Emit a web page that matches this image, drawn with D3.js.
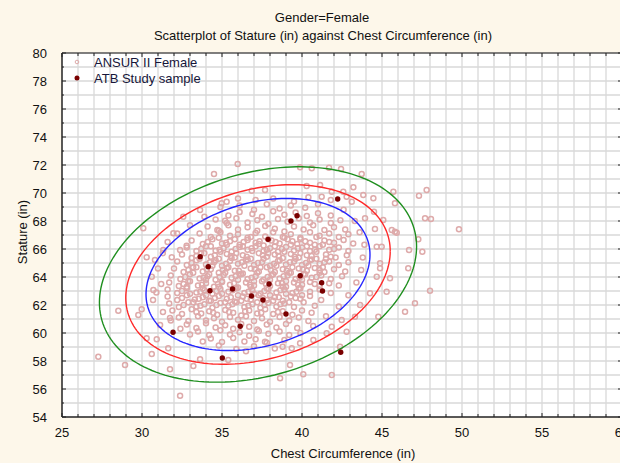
<!DOCTYPE html>
<html>
<head>
<meta charset="utf-8">
<script src="https://cdn.jsdelivr.net/npm/d3@7"></script>
<style>
  body { margin: 0; background: #fdf7ea; }
  text { font-family: "Liberation Sans", Arial, sans-serif; }
</style>
</head>
<body>
<div id="chart"></div>
<script>
// Data (inches)
const xTicks = [25, 30, 35, 40, 45, 50, 55, 60];
const yTicks = [54, 56, 58, 60, 62, 64, 66, 68, 70, 72, 74, 76, 78, 80];
const legendLabels = ["ANSUR II Female", "ATB Study sample"];

// ANSUR II female sample, chest circumference vs stature
const ansurPoints = [
  // outer / sparse points
  [35.98,72.07],[34.5,71.36],[30.08,67.48],[30.29,65.41],[31.86,65.41],[32.38,65.93],[32.79,66.24],
  [34.71,67.36],[35.19,68.02],[35.29,69.38],[41.69,71.81],[40.61,71.76],[39.88,71.84],[43.73,71.36],
  [43.21,70.41],[42.79,69.74],[43.11,69.38],[43.94,68.19],[44.56,67.43],[45.92,67.16],[47.79,70.21],
  [47.69,68.19],[46.69,65.93],[47.52,65.81],[46.64,64.62],[44.67,66.16],[44.88,64.62],[45.81,69.26],
  [45.71,70.09],[44.46,69.62],[41.23,69.74],[41.86,70.09],[37.69,70.21],[28.52,61.59],[27.27,58.31],
  [28.94,57.71],[29.77,61.29],[29.98,61.69],[30.29,59.62],[30.92,59.55],[30.61,58.5],[31.75,57.41],
  [32.38,55.52],[33.21,57.64],[33.63,58.12],[35.39,58.07],[31.64,58.91],[47.06,62.12],[46.44,61.52],
  [45.29,62.95],[44.77,61.16],[42.79,60.09],[41.86,57.0],[40.08,57.05],[38.63,56.76],[39.25,57.71],
  [42.38,59.02],[37.69,59.38],[38.79,59.02],[49.81,67.41],[47.31,69.81],[48.06,68.14],[48.0,63.02],
  [47.27,66.69],[42.44,71.71],[30.69,62.36],[31.31,61.5],[31.75,61.07],[31.13,60.57],[41.86,60.45],
  [42.48,60.93],[41.54,59.98],[39.88,59.26],[39.36,58.91],[40.71,59.5],[43.63,62.0],[44.25,62.84],
  [43.31,61.16],[40.29,70.5],[41.13,70.57],[42.58,70.09],[43.83,69.86],[44.5,68.66],[45.08,68.07],
  [45.61,67.36],[44.98,66.16],[44.88,64.98],[45.5,63.91],[44.67,64.02],[45.81,67.24],[36.86,70.16],
  [34.98,69.26],[33.63,68.79],[32.58,68.31],[31.96,67.12],[31.33,65.93],[30.81,65.21],[30.61,64.02],
  [30.71,63.07],
  // ring near the inner ellipse
  [31.0,64.6],[31.2,63.5],[30.9,62.9],[31.3,65.7],[31.6,66.5],[32.2,67.1],[33.0,67.7],[33.9,68.3],
  [34.9,69.0],[36.0,69.6],[41.8,69.5],[42.6,68.8],[43.3,68.0],[43.6,67.2],[43.9,66.3],[43.8,65.4],
  [43.7,64.5],[43.4,63.6],[42.9,62.7],[42.3,61.9],[41.5,61.2],[40.7,60.5],[39.9,60.0],[38.9,59.5],
  [33.0,59.9],[32.4,60.3],[31.8,60.9],[38.3,58.9],[36.5,58.7],[33.8,59.4],
  // dense core
  [38.2,69.6],[39.5,69.4],[40.4,69.7],[37.1,69.5],
  [36.1,69.1],[37.0,68.8],[37.8,69.2],[38.6,68.9],[39.3,69.1],[40.2,68.95],[41.0,69.2],
  [35.4,68.4],[36.1,68.65],[36.9,68.5],[37.5,68.3],[38.2,68.7],[38.9,68.45],[39.6,68.6],[40.3,68.35],[41.0,68.55],[41.8,68.4],
  [34.6,68.1],[35.3,67.85],[35.9,68.2],[36.6,67.9],[37.2,68.05],[37.9,67.8],[38.5,68.15],[39.1,67.95],[39.8,68.2],[40.5,67.9],[41.1,68.1],[41.8,67.85],[42.4,68.05],
  [34.1,67.6],[34.8,67.3],[35.4,67.7],[36.0,67.4],[36.6,67.55],[37.2,67.3],[37.7,67.65],[38.3,67.45],[38.9,67.25],[39.5,67.6],[40.1,67.4],[40.7,67.7],[41.4,67.35],[42.0,67.55],[42.7,67.4],
  [33.6,67.1],[34.3,66.85],[34.9,67.2],[35.5,66.95],[36.0,67.05],[36.6,66.8],[37.1,67.15],[37.7,66.9],[38.2,67.2],[38.8,66.85],[39.3,67.05],[39.9,66.8],[40.5,67.2],[41.1,66.95],[41.7,67.1],[42.3,66.85],[42.9,67.05],
  [33.1,66.6],[33.8,66.35],[34.4,66.7],[35.0,66.4],[35.5,66.55],[36.1,66.3],[36.6,66.65],[37.1,66.45],[37.6,66.25],[38.1,66.6],[38.6,66.4],[39.1,66.7],[39.7,66.35],[40.2,66.55],[40.8,66.3],[41.4,66.6],[42.0,66.45],[42.6,66.65],[43.2,66.4],
  [32.8,66.1],[33.4,65.85],[34.0,66.2],[34.6,65.9],[35.1,66.05],[35.6,65.8],[36.1,66.15],[36.6,65.95],[37.1,66.2],[37.6,65.85],[38.0,66.05],[38.5,65.8],[39.0,66.15],[39.5,65.9],[40.0,66.1],[40.5,65.85],[41.1,66.2],[41.7,65.95],[42.3,66.1],[42.9,65.85],
  [32.5,65.6],[33.1,65.35],[33.7,65.7],[34.3,65.45],[34.8,65.3],[35.3,65.65],[35.8,65.4],[36.3,65.55],[36.8,65.3],[37.3,65.7],[37.8,65.45],[38.3,65.6],[38.8,65.35],[39.3,65.65],[39.8,65.4],[40.3,65.55],[40.9,65.3],[41.5,65.6],[42.1,65.4],[42.8,65.55],
  [32.2,65.1],[32.8,64.85],[33.4,65.2],[34.0,64.9],[34.5,65.05],[35.0,64.8],[35.5,65.15],[36.0,64.95],[36.5,65.2],[37.0,64.85],[37.5,65.05],[38.0,64.8],[38.5,65.15],[39.0,64.9],[39.5,65.1],[40.0,64.85],[40.5,65.2],[41.1,64.95],[41.7,65.1],[42.3,64.85],[42.9,65.05],
  [32.0,64.6],[32.6,64.35],[33.2,64.7],[33.8,64.4],[34.3,64.55],[34.8,64.3],[35.3,64.65],[35.8,64.45],[36.3,64.25],[36.8,64.6],[37.3,64.4],[37.8,64.7],[38.3,64.35],[38.8,64.55],[39.3,64.3],[39.8,64.6],[40.3,64.45],[40.8,64.65],[41.4,64.35],[42.0,64.55],[42.7,64.4],
  [31.8,64.1],[32.4,63.85],[33.0,64.2],[33.6,63.9],[34.1,64.05],[34.6,63.8],[35.1,64.15],[35.6,63.95],[36.1,64.2],[36.6,63.85],[37.1,64.05],[37.6,63.8],[38.1,64.15],[38.6,63.9],[39.1,64.1],[39.6,63.85],[40.1,64.2],[40.6,63.95],[41.2,64.1],[41.8,63.85],[42.5,64.05],
  [31.7,63.6],[32.3,63.35],[32.9,63.7],[33.5,63.4],[34.0,63.55],[34.5,63.3],[35.0,63.65],[35.5,63.45],[36.0,63.25],[36.5,63.6],[37.0,63.4],[37.5,63.7],[38.0,63.35],[38.5,63.55],[39.0,63.3],[39.5,63.6],[40.0,63.45],[40.5,63.65],[41.1,63.35],[41.7,63.55],[42.3,63.4],
  [31.6,63.1],[32.2,62.85],[32.8,63.2],[33.4,62.9],[33.9,63.05],[34.4,62.8],[34.9,63.15],[35.4,62.95],[35.9,63.2],[36.4,62.85],[36.9,63.05],[37.4,62.8],[37.9,63.15],[38.4,62.9],[38.9,63.1],[39.4,62.85],[39.9,63.2],[40.5,62.95],[41.1,63.1],[41.8,62.85],
  [31.6,62.6],[32.2,62.35],[32.8,62.7],[33.3,62.4],[33.8,62.55],[34.3,62.3],[34.8,62.65],[35.3,62.45],[35.8,62.25],[36.3,62.6],[36.8,62.4],[37.3,62.7],[37.8,62.35],[38.3,62.55],[38.8,62.3],[39.3,62.6],[39.9,62.45],[40.5,62.65],[41.2,62.35],
  [31.7,62.1],[32.3,61.85],[32.9,62.2],[33.4,61.9],[33.9,62.05],[34.4,61.8],[34.9,62.15],[35.4,61.95],[35.9,62.2],[36.4,61.85],[36.9,62.05],[37.4,61.8],[37.9,62.15],[38.4,61.9],[38.9,62.1],[39.5,61.85],[40.1,62.2],[40.8,61.95],
  [31.9,61.6],[32.5,61.35],[33.1,61.7],[33.7,61.4],[34.2,61.55],[34.7,61.3],[35.2,61.65],[35.7,61.45],[36.2,61.25],[36.7,61.6],[37.2,61.4],[37.7,61.7],[38.2,61.35],[38.8,61.55],[39.4,61.3],[40.0,61.6],[40.6,61.45],
  [32.3,61.1],[32.9,60.85],[33.5,61.2],[34.0,60.9],[34.5,61.05],[35.0,60.8],[35.5,61.15],[36.0,60.95],[36.5,61.2],[37.0,60.85],[37.5,61.05],[38.0,60.8],[38.6,61.15],[39.2,60.9],[39.8,61.1],[40.4,60.85],
  [32.8,60.6],[33.4,60.35],[34.0,60.7],[34.6,60.4],[35.2,60.55],[35.7,60.3],[36.2,60.65],[36.7,60.45],[37.2,60.25],[37.8,60.6],[38.4,60.4],[39.0,60.65],[39.7,60.35],
  [33.5,60.1],[34.2,59.85],[34.9,60.2],[35.5,59.9],[36.1,60.05],[36.7,59.8],[37.3,60.15],[37.9,59.95],[38.6,60.1],[39.2,59.85],
  [34.3,59.6],[35.0,59.35],[35.7,59.65],[36.4,59.4],[37.1,59.55],[37.8,59.3],
  [34.8,59.1],[35.9,58.85],[37.0,59.05],
  [34.8,66.8],[35.8,66.7],[36.8,66.85],[37.9,66.7],[38.9,66.8],[39.9,66.7],[40.9,66.85],
  [34.3,66.2],[35.3,66.3],[36.3,66.2],[37.3,66.35],[38.3,66.2],[39.3,66.3],[40.3,66.2],[41.3,66.3],
  [33.9,65.7],[34.9,65.8],[35.9,65.7],[36.9,65.85],[37.9,65.7],[38.9,65.8],[39.9,65.7],[40.9,65.8],
  [33.6,65.3],[34.6,65.2],[35.6,65.35],[36.6,65.25],[37.6,65.3],[38.6,65.2],[39.6,65.3],[40.6,65.25],[41.5,65.3],
  [33.4,64.7],[34.4,64.8],[35.4,64.7],[36.4,64.8],[37.4,64.7],[38.4,64.8],[39.4,64.7],[40.4,64.8],[41.3,64.7],
  [33.2,64.3],[34.2,64.2],[35.2,64.3],[36.2,64.2],[37.2,64.3],[38.2,64.2],[39.2,64.3],[40.2,64.2],[41.1,64.3],
  [33.0,63.7],[34.0,63.8],[35.0,63.7],[36.0,63.8],[37.0,63.7],[38.0,63.8],[39.0,63.7],[40.0,63.8],
  [32.8,63.3],[33.8,63.2],[34.8,63.3],[35.8,63.2],[36.8,63.3],[37.8,63.2],[38.8,63.3],[39.8,63.2],
  [33.0,62.8],[34.0,62.7],[35.0,62.8],[36.0,62.7],[37.0,62.8],[38.0,62.7],[39.0,62.8],[40.0,62.7],
  [33.2,62.2],[34.2,62.3],[35.2,62.2],[36.2,62.3],[37.2,62.2],[38.2,62.3],[39.2,62.2],
  [34.1,66.5],[35.25,66.45],[36.35,66.5],[37.35,66.55],[38.35,66.5],[39.4,66.55],[40.5,66.45],[41.7,66.5],
  [33.7,66.0],[34.85,65.95],[35.85,66.0],[36.85,66.05],[37.8,65.95],[38.75,66.0],[39.75,66.05],[40.8,65.95],[42.0,66.0],
  [33.4,65.5],[34.55,65.55],[35.55,65.5],[36.55,65.45],[37.55,65.55],[38.55,65.5],[39.55,65.45],[40.6,65.5],[41.8,65.45],
  [33.1,65.0],[34.25,65.05],[35.25,64.95],[36.25,65.05],[37.25,65.0],[38.25,64.95],[39.25,65.05],[40.25,65.0],[41.4,65.05],
  [32.9,64.5],[34.05,64.55],[35.05,64.5],[36.05,64.45],[37.05,64.55],[38.05,64.5],[39.05,64.45],[40.05,64.55],[41.1,64.5],
  [32.7,64.0],[33.85,63.95],[34.85,64.0],[35.85,64.05],[36.85,63.95],[37.85,64.0],[38.85,64.05],[39.85,63.95],[40.9,64.0],
  [32.6,63.5],[33.75,63.45],[34.75,63.5],[35.75,63.55],[36.75,63.45],[37.75,63.5],[38.75,63.55],[39.75,63.45],[40.8,63.5],
  [32.5,63.0],[33.65,62.95],[34.65,63.0],[35.65,63.05],[36.65,62.95],[37.65,63.0],[38.65,63.05],[39.65,62.95],
  [32.5,62.5],[33.55,62.45],[34.55,62.5],[35.55,62.55],[36.55,62.45],[37.55,62.5],[38.55,62.55],[39.6,62.5],
  [32.6,62.0],[33.65,61.95],[34.65,62.0],[35.65,62.05],[36.65,61.95],[37.65,62.0],[38.65,62.05],
  [33.4,61.5],[34.45,61.45],[35.45,61.5],[36.45,61.55],[37.45,61.45],[38.5,61.5]
];

// ATB study sample
const atbPoints = [
  [42.23,69.57],[39.69,68.38],[39.31,68.0],[37.88,66.69],[33.64,65.45],[34.14,64.74],[39.89,64.09],
  [37.94,63.5],[41.23,63.59],[35.66,63.14],[34.25,63.02],[41.28,63.0],[36.84,62.64],[37.56,62.36],
  [39.0,61.36],[36.14,60.48],[31.94,60.05],[35.02,58.21],[42.42,58.62]
];

// Ellipses of the ANSUR II sample: mean, sd, correlation, scale per ellipse
const ellipseMean = [37.25, 64.18];
const ellipseSd = [3.26, 2.53];
const ellipseCorr = 0.26;
const ellipseScales = [2.147, 2.535, 3.04];
const ellipseColors = ["#2626ff", "#ff2a2a", "#1f8f1f"];

// Layout
const W = 620, H = 463;
const plot = {left: 62, right: 622, top: 53, bottom: 417};

const svg = d3.select("#chart").append("svg")
    .attr("width", W)
    .attr("height", H);

svg.append("rect").attr("width", W).attr("height", H).attr("fill", "#fdf7ea");

const x = d3.scaleLinear().domain([25, 60]).range([plot.left, plot.right]);
const y = d3.scaleLinear().domain([54, 80]).range([plot.bottom, plot.top]);

svg.append("defs").append("clipPath").attr("id", "clip")
  .append("rect")
    .attr("x", plot.left).attr("y", plot.top)
    .attr("width", plot.right - plot.left).attr("height", plot.bottom - plot.top);

svg.append("rect")
    .attr("x", plot.left).attr("y", plot.top)
    .attr("width", plot.right - plot.left).attr("height", plot.bottom - plot.top)
    .attr("fill", "#fff");

// Grid (every inch)
const grid = svg.append("g").attr("stroke", "#d9d9d9").attr("stroke-width", 1.3);
grid.selectAll(".gx").data(d3.range(26, 60)).enter().append("line")
    .attr("x1", d => x(d)).attr("x2", d => x(d))
    .attr("y1", plot.top).attr("y2", plot.bottom);
grid.selectAll(".gy").data(d3.range(55, 80)).enter().append("line")
    .attr("y1", d => y(d)).attr("y2", d => y(d))
    .attr("x1", plot.left).attr("x2", plot.right);

const body = svg.append("g").attr("clip-path", "url(#clip)");

// ANSUR points
body.selectAll(".ansur").data(ansurPoints).enter().append("circle")
    .attr("class", "ansur")
    .attr("cx", d => x(d[0]))
    .attr("cy", d => y(d[1]))
    .attr("r", 2.5)
    .attr("fill", "none")
    .attr("stroke", "#deaaaa")
    .attr("stroke-width", 1.5);

// Ellipses
const line = d3.line().x(d => x(d[0])).y(d => y(d[1]));
ellipseScales.forEach((k, i) => {
  const pts = d3.range(0, 181).map(j => {
    const t = j / 180 * 2 * Math.PI;
    return [
      ellipseMean[0] + k * ellipseSd[0] * Math.cos(t),
      ellipseMean[1] + k * ellipseSd[1] * (ellipseCorr * Math.cos(t) + Math.sqrt(1 - ellipseCorr * ellipseCorr) * Math.sin(t))
    ];
  });
  body.append("path")
      .attr("d", line(pts))
      .attr("fill", "none")
      .attr("stroke", ellipseColors[i])
      .attr("stroke-width", 1.4);
});

// ATB points
body.selectAll(".atb").data(atbPoints).enter().append("circle")
    .attr("class", "atb")
    .attr("cx", d => x(d[0]))
    .attr("cy", d => y(d[1]))
    .attr("r", 2.7)
    .attr("fill", "#7a0000");

// Axes: frame and inside ticks
const axes = svg.append("g").attr("stroke", "#222");
axes.append("line").attr("x1", plot.left).attr("x2", plot.right).attr("y1", plot.top).attr("y2", plot.top).attr("stroke", "#555").attr("stroke-width", 1.5);
axes.append("line").attr("x1", plot.left).attr("x2", plot.right).attr("y1", plot.bottom).attr("y2", plot.bottom).attr("stroke-width", 1.5);
axes.append("line").attr("x1", plot.left).attr("x2", plot.left).attr("y1", plot.top).attr("y2", plot.bottom).attr("stroke-width", 1.5);

d3.range(25, 61).forEach(v => {
  const len = v % 5 === 0 ? 4 : 3;
  axes.append("line").attr("x1", x(v)).attr("x2", x(v)).attr("y1", plot.bottom).attr("y2", plot.bottom - len);
  axes.append("line").attr("x1", x(v)).attr("x2", x(v)).attr("y1", plot.top).attr("y2", plot.top + len);
});
d3.range(54, 81).forEach(v => {
  const len = v % 2 === 0 ? 4 : 2;
  axes.append("line").attr("y1", y(v)).attr("y2", y(v)).attr("x1", plot.left).attr("x2", plot.left + len);
  axes.append("line").attr("y1", y(v)).attr("y2", y(v)).attr("x1", plot.right).attr("x2", plot.right - len);
});

// Tick labels
svg.selectAll(".xl").data(xTicks).enter().append("text")
    .attr("x", d => x(d)).attr("y", 437)
    .attr("text-anchor", "middle")
    .attr("font-size", 13).attr("fill", "#111")
    .text(d => d);
svg.selectAll(".yl").data(yTicks).enter().append("text")
    .attr("x", 47).attr("y", d => y(d) + 4.5)
    .attr("text-anchor", "end")
    .attr("font-size", 13).attr("fill", "#111")
    .text(d => d);

// Titles
svg.append("text").attr("x", 322).attr("y", 22).attr("text-anchor", "middle")
    .attr("font-size", 13).attr("fill", "#111").text("Gender=Female");
svg.append("text").attr("x", 323).attr("y", 40).attr("text-anchor", "middle")
    .attr("font-size", 13).attr("fill", "#111").text("Scatterplot of Stature (in) against Chest Circumference (in)");
svg.append("text").attr("x", 343).attr("y", 458).attr("text-anchor", "middle")
    .attr("font-size", 13).attr("fill", "#111").text("Chest Circumference (in)");
svg.append("text").attr("transform", "translate(27,232) rotate(-90)").attr("text-anchor", "middle")
    .attr("font-size", 13).attr("fill", "#111").text("Stature (in)");

// Legend
const legend = svg.append("g");
legend.append("circle").attr("cx", 77).attr("cy", 62).attr("r", 1.8)
    .attr("fill", "none").attr("stroke", "#deaaaa");
legend.append("circle").attr("cx", 77).attr("cy", 78).attr("r", 2.5).attr("fill", "#7a0000");
legend.selectAll(".lt").data(legendLabels).enter().append("text")
    .attr("x", 94).attr("y", (d, i) => 66.5 + i * 16)
    .attr("font-size", 13).attr("fill", "#16163a")
    .text(d => d);
</script>
</body>
</html>
